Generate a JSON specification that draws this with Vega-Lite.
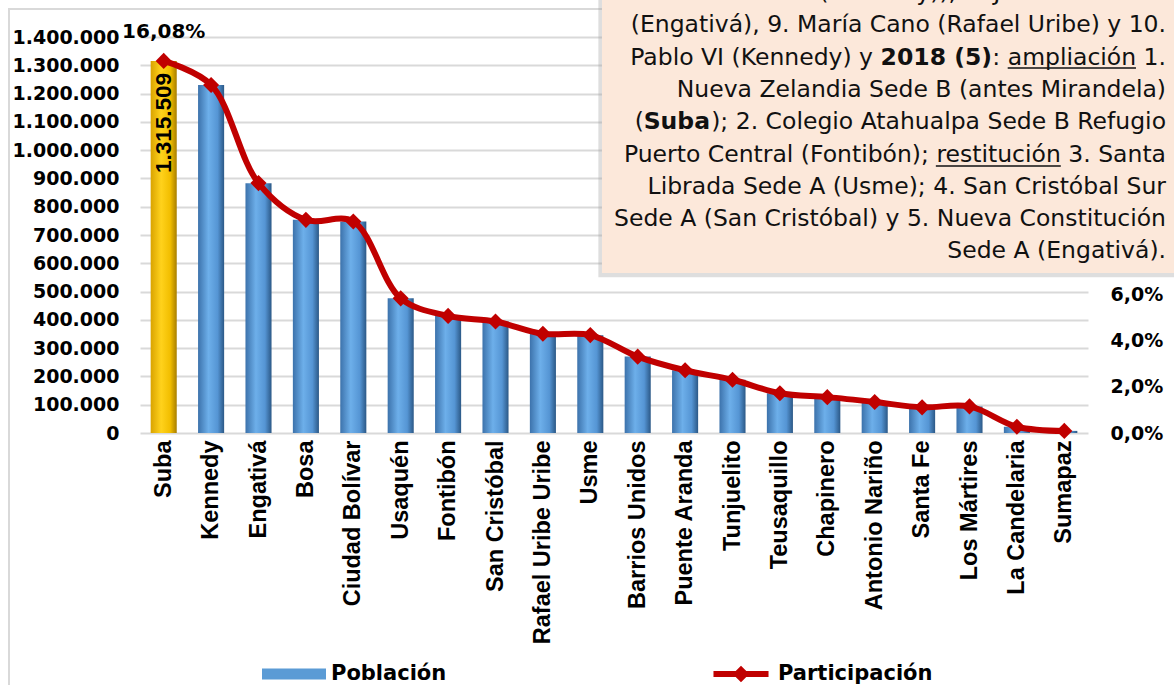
{
  "$schema": "https://vega.github.io/schema/vega-lite/v6.json",
  "width": 948,
  "height": 396,
  "autosize": {"type": "none"},
  "padding": {"left": 140, "top": 37, "right": 86, "bottom": 252},
  "background": "#ffffff",
  "config": {
    "locale": {"number": {"decimal": ",", "thousands": ".", "grouping": [3], "currency": ["$", ""]}},
    "view": {"stroke": null},
    "axis": {"labelColor": "#000000", "titleColor": "#000000", "zindex": 0},
    "legend": {
      "orient": "none",
      "legendX": 122,
      "legendY": 605,
      "direction": "horizontal",
      "symbolSize": 4096,
      "symbolStrokeWidth": 0,
      "symbolOpacity": 1,
      "labelFont": "DejaVu Sans",
      "labelFontSize": 21,
      "labelFontWeight": "bold",
      "labelColor": "#000000",
      "labelOffset": 5,
      "labelLimit": 300,
      "columnPadding": 262
    }
  },
  "layer": [
    {
      "data": {
        "values": [
          {"localidad": "Suba", "poblacion": 1315509, "participacion": 0.1608, "destacada": "si"},
          {"localidad": "Kennedy", "poblacion": 1230539, "participacion": 0.1504, "destacada": "no"},
          {"localidad": "Engativá", "poblacion": 883319, "participacion": 0.1080, "destacada": "no"},
          {"localidad": "Bosa", "poblacion": 753496, "participacion": 0.0921, "destacada": "no"},
          {"localidad": "Ciudad Bolívar", "poblacion": 748012, "participacion": 0.0914, "destacada": "no"},
          {"localidad": "Usaquén", "poblacion": 476184, "participacion": 0.0582, "destacada": "no"},
          {"localidad": "Fontibón", "poblacion": 413734, "participacion": 0.0506, "destacada": "no"},
          {"localidad": "San Cristóbal", "poblacion": 394358, "participacion": 0.0482, "destacada": "no"},
          {"localidad": "Rafael Uribe Uribe", "poblacion": 350944, "participacion": 0.0429, "destacada": "no"},
          {"localidad": "Usme", "poblacion": 345689, "participacion": 0.0423, "destacada": "no"},
          {"localidad": "Barrios Unidos", "poblacion": 270280, "participacion": 0.0330, "destacada": "no"},
          {"localidad": "Puente Aranda", "poblacion": 221906, "participacion": 0.0271, "destacada": "no"},
          {"localidad": "Tunjuelito", "poblacion": 187971, "participacion": 0.0230, "destacada": "no"},
          {"localidad": "Teusaquillo", "poblacion": 140767, "participacion": 0.0172, "destacada": "no"},
          {"localidad": "Chapinero", "poblacion": 126951, "participacion": 0.0155, "destacada": "no"},
          {"localidad": "Antonio Nariño", "poblacion": 109254, "participacion": 0.0134, "destacada": "no"},
          {"localidad": "Santa Fe", "poblacion": 91111, "participacion": 0.0111, "destacada": "no"},
          {"localidad": "Los Mártires", "poblacion": 93716, "participacion": 0.0115, "destacada": "no"},
          {"localidad": "La Candelaria", "poblacion": 22041, "participacion": 0.0027, "destacada": "no"},
          {"localidad": "Sumapaz", "poblacion": 7457, "participacion": 0.0009, "destacada": "no"}
        ]
      },
      "layer": [
        {
          "layer": [
            {
              "transform": [{"filter": "datum.destacada === 'no'"}],
              "mark": {
                "type": "bar",
                "color": {
                  "gradient": "linear", "x1": 0, "y1": 0, "x2": 1, "y2": 0,
                  "stops": [
                    {"offset": 0, "color": "#3C72AB"},
                    {"offset": 0.4, "color": "#6DAFEA"},
                    {"offset": 0.75, "color": "#5595D4"},
                    {"offset": 1, "color": "#2B5886"}
                  ]
                }
              },
              "encoding": {
                "x": {
                  "field": "localidad", "type": "nominal", "sort": null,
                  "scale": {
                    "domain": ["Suba", "Kennedy", "Engativá", "Bosa", "Ciudad Bolívar", "Usaquén", "Fontibón", "San Cristóbal", "Rafael Uribe Uribe", "Usme", "Barrios Unidos", "Puente Aranda", "Tunjuelito", "Teusaquillo", "Chapinero", "Antonio Nariño", "Santa Fe", "Los Mártires", "La Candelaria", "Sumapaz"],
                    "paddingInner": 0.45, "paddingOuter": 0.225
                  },
                  "axis": {
                    "title": null, "labelAngle": 270, "labelPadding": 7, "ticks": false, "domain": false,
                    "labelFont": "Liberation Sans", "labelFontSize": 23.5, "labelFontWeight": "bold",
                    "labelLimit": 400, "labelOverlap": false
                  }
                },
                "y": {
                  "field": "poblacion", "type": "quantitative",
                  "scale": {"domain": [0, 1400000], "nice": false},
                  "axis": {
                    "title": null, "orient": "left",
                    "values": [0, 100000, 200000, 300000, 400000, 500000, 600000, 700000, 800000, 900000, 1000000, 1100000, 1200000, 1300000, 1400000],
                    "format": ",.0f", "ticks": false, "domain": false, "labelPadding": 21, "labelOverlap": false,
                    "labelFont": "DejaVu Sans", "labelFontSize": 19, "labelFontWeight": "bold",
                    "grid": true, "gridColor": "#D9D9D9", "gridWidth": 2
                  }
                }
              }
            },
            {
              "transform": [{"filter": "datum.destacada === 'si'"}],
              "mark": {
                "type": "bar",
                "color": {
                  "gradient": "linear", "x1": 0, "y1": 0, "x2": 1, "y2": 0,
                  "stops": [
                    {"offset": 0, "color": "#D9A300"},
                    {"offset": 0.4, "color": "#FFD21C"},
                    {"offset": 0.75, "color": "#F2BE00"},
                    {"offset": 1, "color": "#A87E00"}
                  ]
                }
              },
              "encoding": {
                "x": {"field": "localidad", "type": "nominal", "sort": null},
                "y": {
                  "field": "poblacion", "type": "quantitative",
                  "axis": {
                    "title": null, "orient": "left",
                    "values": [0, 100000, 200000, 300000, 400000, 500000, 600000, 700000, 800000, 900000, 1000000, 1100000, 1200000, 1300000, 1400000],
                    "format": ",.0f", "ticks": false, "domain": false, "labelPadding": 21, "labelOverlap": false,
                    "labelFont": "DejaVu Sans", "labelFontSize": 19, "labelFontWeight": "bold",
                    "grid": true, "gridColor": "#D9D9D9", "gridWidth": 2
                  }
                }
              }
            },
            {
              "transform": [{"filter": "datum.destacada === 'si'"}],
              "mark": {
                "type": "text", "angle": 270, "align": "right", "baseline": "middle", "dx": -12,
                "font": "Liberation Sans", "fontSize": 22.5, "fontWeight": "bold", "color": "#000000"
              },
              "encoding": {
                "x": {"field": "localidad", "type": "nominal", "sort": null},
                "y": {
                  "field": "poblacion", "type": "quantitative",
                  "axis": {
                    "title": null, "orient": "left",
                    "values": [0, 100000, 200000, 300000, 400000, 500000, 600000, 700000, 800000, 900000, 1000000, 1100000, 1200000, 1300000, 1400000],
                    "format": ",.0f", "ticks": false, "domain": false, "labelPadding": 21, "labelOverlap": false,
                    "labelFont": "DejaVu Sans", "labelFontSize": 19, "labelFontWeight": "bold",
                    "grid": true, "gridColor": "#D9D9D9", "gridWidth": 2
                  }
                },
                "text": {"field": "poblacion", "type": "quantitative", "format": ",.0f"}
              }
            }
          ]
        },
        {
          "layer": [
            {
              "mark": {
                "type": "line", "color": "#C00000", "strokeWidth": 6, "interpolate": "catmull-rom",
                "point": {"shape": "diamond", "size": 260, "filled": true, "color": "#C00000", "opacity": 1}
              },
              "encoding": {
                "x": {"field": "localidad", "type": "nominal", "sort": null},
                "y": {
                  "field": "participacion", "type": "quantitative",
                  "scale": {"domain": [0, 0.171127], "nice": false},
                  "axis": {
                    "title": null, "orient": "right",
                    "values": [0, 0.02, 0.04, 0.06],
                    "format": ".1%", "ticks": false, "domain": false, "grid": false, "labelPadding": 22, "labelOverlap": false,
                    "labelFont": "DejaVu Sans", "labelFontSize": 19, "labelFontWeight": "bold"
                  }
                }
              }
            },
            {
              "transform": [{"filter": "datum.destacada === 'si'"}],
              "mark": {
                "type": "text", "align": "center", "baseline": "middle", "dy": -29,
                "font": "DejaVu Sans", "fontSize": 20, "fontWeight": "bold", "color": "#000000"
              },
              "encoding": {
                "x": {"field": "localidad", "type": "nominal", "sort": null},
                "y": {
                  "field": "participacion", "type": "quantitative",
                  "axis": {
                    "title": null, "orient": "right",
                    "values": [0, 0.02, 0.04, 0.06],
                    "format": ".1%", "ticks": false, "domain": false, "grid": false, "labelPadding": 22, "labelOverlap": false,
                    "labelFont": "DejaVu Sans", "labelFontSize": 19, "labelFontWeight": "bold"
                  }
                },
                "text": {"field": "participacion", "type": "quantitative", "format": ".2%"}
              }
            }
          ]
        },
        {
          "data": {"values": [{"serie": "Población"}, {"serie": "Participación"}]},
          "mark": {"type": "point", "filled": true, "size": 0, "opacity": 1},
          "encoding": {
            "color": {
              "field": "serie", "type": "nominal",
              "scale": {"domain": ["Población", "Participación"], "range": ["#5B9BD5", "#C00000"]},
              "legend": {"title": null}
            },
            "shape": {
              "field": "serie", "type": "nominal",
              "scale": {
                "domain": ["Población", "Participación"],
                "range": [
                  "M-1,-0.17L1,-0.17L1,0.17L-1,0.17Z",
                  "M-0.86,-0.095L0.86,-0.095L0.86,0.095L-0.86,0.095Z M0,-0.26L0.26,0L0,0.26L-0.26,0Z"
                ]
              },
              "legend": {"title": null}
            }
          }
        }
      ],
      "resolve": {"scale": {"y": "independent"}}
    },
    {
      "data": {
        "values": [
          {"elemento": "marco", "x0": -0.1382, "x1": 1.3, "y0": -1, "y1": 1.0707},
          {"elemento": "sombra", "x0": 0.4835, "x1": 1.3, "y0": 0.393, "y1": 1.3},
          {"elemento": "caja", "x0": 0.4873, "x1": 1.3, "y0": 0.404, "y1": 1.3},
          {"elemento": "subrayado", "x0": 0.9153, "x1": 1.0506, "y0": 0.9217, "y1": 0.9217},
          {"elemento": "subrayado", "x0": 0.8395, "x1": 0.9713, "y0": 0.6742, "y1": 0.6742}
        ]
      },
      "layer": [
        {
          "transform": [{"filter": "datum.elemento === 'marco'"}],
          "mark": {"type": "rect", "fill": null, "stroke": "#D9D9D9", "strokeWidth": 2},
          "encoding": {
            "x": {"field": "x0", "type": "quantitative", "scale": {"domain": [0, 1], "nice": false, "zero": false}, "axis": null},
            "x2": {"field": "x1"},
            "y": {"field": "y0", "type": "quantitative", "scale": {"domain": [0, 1], "nice": false, "zero": false}, "axis": null},
            "y2": {"field": "y1"}
          }
        },
        {
          "transform": [{"filter": "datum.elemento === 'sombra'"}],
          "mark": {"type": "rect", "fill": "#A0A0A0", "opacity": 0.35},
          "encoding": {
            "x": {"field": "x0", "type": "quantitative", "axis": null},
            "x2": {"field": "x1"},
            "y": {"field": "y0", "type": "quantitative", "axis": null},
            "y2": {"field": "y1"}
          }
        },
        {
          "transform": [{"filter": "datum.elemento === 'caja'"}],
          "mark": {"type": "rect", "fill": "#FCE8DA", "stroke": null},
          "encoding": {
            "x": {"field": "x0", "type": "quantitative", "axis": null},
            "x2": {"field": "x1"},
            "y": {"field": "y0", "type": "quantitative", "axis": null},
            "y2": {"field": "y1"}
          }
        },
        {
          "transform": [{"filter": "datum.elemento === 'subrayado'"}],
          "mark": {"type": "rule", "color": "#111111", "strokeWidth": 1.6},
          "encoding": {
            "x": {"field": "x0", "type": "quantitative", "axis": null},
            "x2": {"field": "x1"},
            "y": {"field": "y0", "type": "quantitative", "axis": null}
          }
        },
        {
          "data": {"values": [{"tx": 1.0823, "ty": 1.1111}]},
          "layer": [
            {
              "mark": {
                "type": "text", "align": "right", "baseline": "middle", "lineHeight": 32.3,
                "font": "DejaVu Sans", "fontSize": 23.5, "color": "#111111",
                "text": [
                  "Claver (Kennedy)), 8. Juan del Corral",
                  "(Engativá), 9. María Cano (Rafael Uribe) y 10."
                ]
              },
              "encoding": {"x": {"field": "tx", "type": "quantitative", "axis": null}, "y": {"field": "ty", "type": "quantitative", "axis": null}}
            },
            {
              "mark": {"type": "text", "align": "right", "baseline": "middle", "dy": 64.6, "font": "DejaVu Sans", "fontSize": 23.5, "color": "#111111", "text": ": ampliación 1."},
              "encoding": {"x": {"field": "tx", "type": "quantitative", "axis": null}, "y": {"field": "ty", "type": "quantitative", "axis": null}}
            },
            {
              "mark": {"type": "text", "align": "right", "baseline": "middle", "dy": 64.6, "dx": -174, "font": "DejaVu Sans", "fontSize": 23.5, "fontWeight": "bold", "color": "#111111", "text": "2018 (5)"},
              "encoding": {"x": {"field": "tx", "type": "quantitative", "axis": null}, "y": {"field": "ty", "type": "quantitative", "axis": null}}
            },
            {
              "mark": {"type": "text", "align": "right", "baseline": "middle", "dy": 64.6, "dx": -293, "font": "DejaVu Sans", "fontSize": 23.5, "color": "#111111", "text": "Pablo VI (Kennedy) y"},
              "encoding": {"x": {"field": "tx", "type": "quantitative", "axis": null}, "y": {"field": "ty", "type": "quantitative", "axis": null}}
            },
            {
              "mark": {"type": "text", "align": "right", "baseline": "middle", "dy": 96.9, "font": "DejaVu Sans", "fontSize": 23.5, "color": "#111111", "text": "Nueva Zelandia Sede B (antes Mirandela)"},
              "encoding": {"x": {"field": "tx", "type": "quantitative", "axis": null}, "y": {"field": "ty", "type": "quantitative", "axis": null}}
            },
            {
              "mark": {"type": "text", "align": "right", "baseline": "middle", "dy": 129.2, "font": "DejaVu Sans", "fontSize": 23.5, "color": "#111111", "text": "); 2. Colegio Atahualpa Sede B Refugio"},
              "encoding": {"x": {"field": "tx", "type": "quantitative", "axis": null}, "y": {"field": "ty", "type": "quantitative", "axis": null}}
            },
            {
              "mark": {"type": "text", "align": "right", "baseline": "middle", "dy": 129.2, "dx": -456, "font": "DejaVu Sans", "fontSize": 23.5, "fontWeight": "bold", "color": "#111111", "text": "Suba"},
              "encoding": {"x": {"field": "tx", "type": "quantitative", "axis": null}, "y": {"field": "ty", "type": "quantitative", "axis": null}}
            },
            {
              "mark": {"type": "text", "align": "right", "baseline": "middle", "dy": 129.2, "dx": -522, "font": "DejaVu Sans", "fontSize": 23.5, "color": "#111111", "text": "("},
              "encoding": {"x": {"field": "tx", "type": "quantitative", "axis": null}, "y": {"field": "ty", "type": "quantitative", "axis": null}}
            },
            {
              "mark": {
                "type": "text", "align": "right", "baseline": "middle", "dy": 161.5, "lineHeight": 32.3,
                "font": "DejaVu Sans", "fontSize": 23.5, "color": "#111111",
                "text": [
                  "Puerto Central (Fontibón); restitución 3. Santa",
                  "Librada Sede A (Usme); 4. San Cristóbal Sur",
                  "Sede A (San Cristóbal) y 5. Nueva Constitución",
                  "Sede A (Engativá)."
                ]
              },
              "encoding": {"x": {"field": "tx", "type": "quantitative", "axis": null}, "y": {"field": "ty", "type": "quantitative", "axis": null}}
            }
          ]
        }
      ]
    }
  ],
  "resolve": {"scale": {"x": "independent", "y": "independent"}}
}
